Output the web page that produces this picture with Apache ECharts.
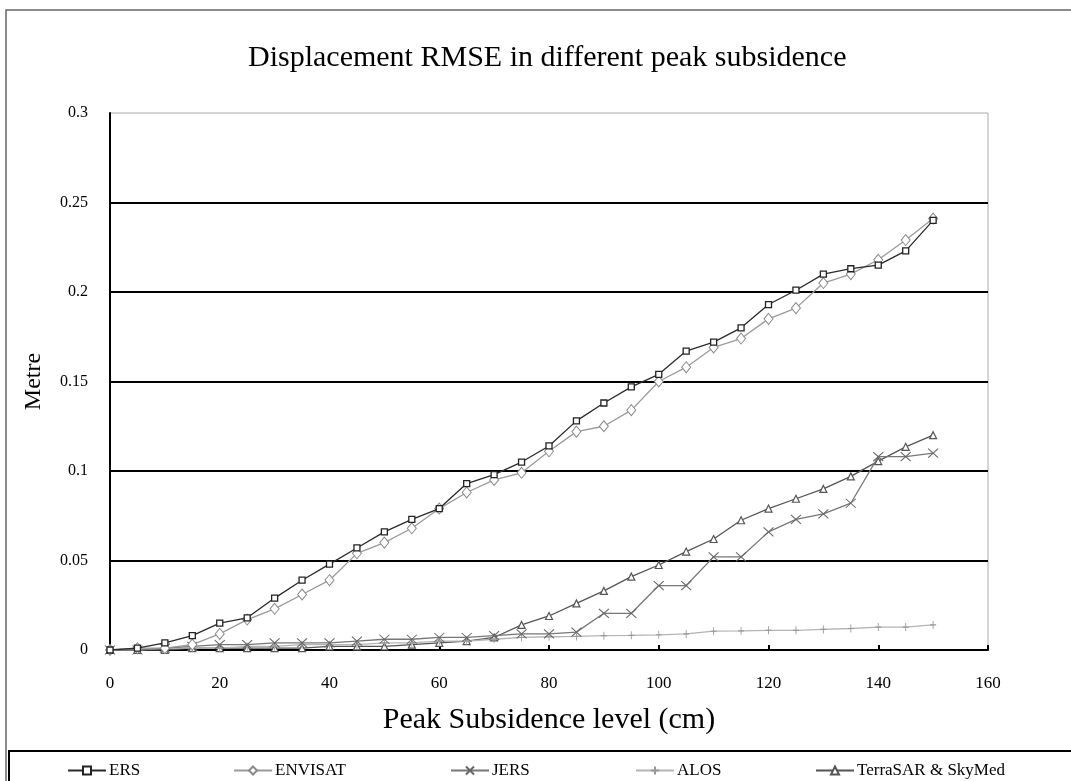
<!DOCTYPE html>
<html>
<head>
<meta charset="utf-8">
<script src="https://cdn.jsdelivr.net/npm/echarts@6/dist/echarts.min.js"></script>
<style>html,body{margin:0;padding:0;background:#fff;}#c{width:1071px;height:781px;}</style>
</head>
<body>
<div id="c"></div>
<script>
const xValues = [0,5,10,15,20,25,30,35,40,45,50,55,60,65,70,75,80,85,90,95,100,105,110,115,120,125,130,135,140,145,150];
const ers = [0,0.001,0.004,0.008,0.015,0.018,0.029,0.039,0.048,0.057,0.066,0.073,0.079,0.093,0.098,0.105,0.114,0.128,0.138,0.147,0.154,0.167,0.172,0.180,0.193,0.201,0.210,0.213,0.215,0.223,0.240];
const envisat = [0,0.001,0.001,0.003,0.009,0.017,0.023,0.031,0.039,0.054,0.060,0.068,0.079,0.088,0.095,0.099,0.111,0.122,0.125,0.134,0.150,0.158,0.169,0.174,0.185,0.191,0.205,0.210,0.218,0.229,0.241];
const jers = [0,0,0.001,0.002,0.003,0.003,0.004,0.004,0.004,0.005,0.006,0.006,0.007,0.007,0.008,0.009,0.009,0.010,0.0205,0.0205,0.036,0.036,0.052,0.052,0.066,0.073,0.076,0.082,0.108,0.108,0.110];
const alos = [0,0,0.001,0.001,0.001,0.002,0.002,0.003,0.003,0.003,0.004,0.004,0.005,0.005,0.006,0.007,0.0074,0.0076,0.008,0.0082,0.0085,0.009,0.0105,0.0107,0.011,0.011,0.0115,0.012,0.0128,0.0128,0.014];
const terrasar = [0,0,0,0.001,0.001,0.001,0.001,0.001,0.002,0.002,0.002,0.003,0.004,0.005,0.007,0.014,0.019,0.026,0.033,0.041,0.0475,0.055,0.062,0.0725,0.079,0.0845,0.090,0.097,0.1055,0.1135,0.120];
const seriesNames = ['ERS','ENVISAT','JERS','ALOS','TerraSAR & SkyMed'];
const yTickLabels = ['0','0.05','0.1','0.15','0.2','0.25','0.3'];
const xTickLabels = ['0','20','40','60','80','100','120','140','160'];

const F = '"Liberation Serif", "DejaVu Serif", serif';
function pairs(arr){ return xValues.map((x,i)=>[x,arr[i]]); }

const styles = [
  {color:'#2a2a2a', symbol:'rect', size:6, fill:'#ffffff', border:'#222222', bw:1.3},
  {color:'#9a9a9a', symbol:'diamond', size:[9,11], fill:'#ffffff', border:'#8a8a8a', bw:1},
  {color:'#777777', symbol:'path://M0,0L10,10M10,0L0,10', size:[10,9], fill:'rgba(0,0,0,0)', border:'#666666', bw:1},
  {color:'#b4b4b4', symbol:'path://M5,0L5,10M0,5L10,5', size:[6,8], fill:'rgba(0,0,0,0)', border:'#999999', bw:1},
  {color:'#555555', symbol:'triangle', size:7, fill:'#ffffff', border:'#555555', bw:1.2}
];
const dataSets = [ers, envisat, jers, alos, terrasar];

const series = dataSets.map((d,i)=>({
  name: seriesNames[i],
  type: 'line',
  data: pairs(d),
  symbol: styles[i].symbol,
  symbolSize: styles[i].size,
  showAllSymbol: true,
  lineStyle: {color: styles[i].color, width: 1.3},
  itemStyle: {color: styles[i].fill, borderColor: styles[i].border, borderWidth: styles[i].bw},
  z: 10 - i,
  animation: false
}));

const legendLefts = [62, 228, 445, 630, 810];
const legends = seriesNames.map((n,i)=>({
  id: 'lg' + i,
  data:[n], left: legendLefts[i], top: 757, itemWidth: 38, itemHeight: 10, itemGap: 4,
  textStyle:{fontFamily:F, fontSize:17, color:'#000', padding:[0,0,0,-2]}
}));

const chart = echarts.init(document.getElementById('c'), null, {renderer:'canvas'});
chart.setOption({
  animation: false,
  backgroundColor: '#fff',
  title: {text:'Displacement RMSE in different peak subsidence', left:243, top:38,
    textStyle:{fontFamily:F, fontSize:30, fontWeight:'normal', color:'#000'}},
  legend: legends,
  grid: {left:110, right:83, top:113, bottom:131, show:true, borderColor:'#aaa', borderWidth:1},
  xAxis: {type:'value', min:0, max:160, interval:20,
    name:'Peak Subsidence level (cm)', nameLocation:'middle', nameGap:55,
    nameTextStyle:{fontFamily:F, fontSize:30, color:'#000'},
    axisLine:{lineStyle:{color:'#000', width:2}},
    axisTick:{inside:true, length:5, lineStyle:{color:'#000', width:2}},
    axisLabel:{fontFamily:F, fontSize:17, color:'#000', margin:25,
      formatter:(v)=>xTickLabels[Math.round(v/20)]},
    splitLine:{show:false}},
  yAxis: {type:'value', min:0, max:0.3, interval:0.05,
    name:'Metre', nameLocation:'middle', nameGap:64,
    nameTextStyle:{fontFamily:F, fontSize:24, color:'#000'},
    axisLine:{show:true, lineStyle:{color:'#000', width:2}},
    axisTick:{show:false},
    axisLabel:{fontFamily:F, fontSize:16, color:'#000', margin:22,
      formatter:(v)=>yTickLabels[Math.round(v/0.05)]},
    splitLine:{show:true, showMaxLine:false, showMinLine:false, lineStyle:{color:'#000', width:2}}},
  graphic: [
    {type:'rect', shape:{x:6, y:10, width:1200, height:900}, style:{fill:'none', stroke:'#666', lineWidth:1.5}, z:-1, silent:true},
    {type:'rect', shape:{x:9, y:751, width:1200, height:100}, style:{fill:'none', stroke:'#000', lineWidth:2}, z:-1, silent:true}
  ],
  series: series
});
</script>
</body>
</html>
